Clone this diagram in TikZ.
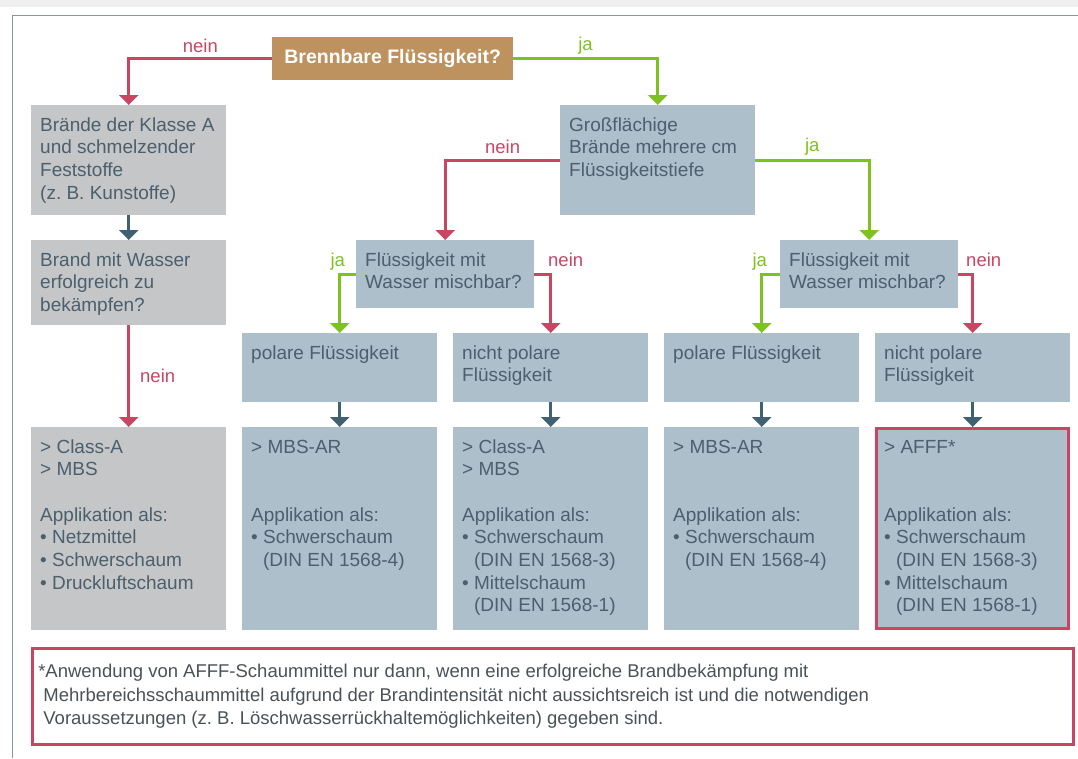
\documentclass[tikz,border=0pt]{standalone}
\usepackage{fontspec}
\setmainfont{Liberation Sans}
\usetikzlibrary{arrows.meta}

\definecolor{tanbox}{HTML}{BD925E}
\definecolor{boxgrey}{HTML}{C5C6C8}
\definecolor{boxblue}{HTML}{ADBFCB}
\definecolor{ink}{HTML}{4B5F6D}
\definecolor{noteink}{HTML}{4A5258}
\definecolor{nored}{HTML}{C94663}
\definecolor{yesgreen}{HTML}{7DC21E}
\definecolor{arrblue}{HTML}{3F6173}
\definecolor{framegrey}{HTML}{8A969D}
\definecolor{topgrey}{HTML}{EFEFEF}

\newcommand{\cell}[3][177pt]{\parbox[t][#2][t]{#1}{\raggedright\strut #3}}
\newcommand{\ind}{\phantom{• }}

\begin{document}
\frenchspacing
\begin{tikzpicture}[x=1pt, y=-1pt,
    box/.style={anchor=north west, inner xsep=9pt, inner ysep=10pt, text=ink,
      font=\fontsize{19}{22.7}\selectfont},
    grey/.style={box, fill=boxgrey},
    blue/.style={box, fill=boxblue},
    arr/.style={line width=3pt, -{Triangle[width=19pt,length=10pt]}},
    no/.style={arr, draw=nored},
    yes/.style={arr, draw=yesgreen},
    down/.style={arr, draw=arrblue},
    lbl/.style={inner sep=0pt, anchor=base, font=\fontsize{18.5}{22.7}\selectfont}]
  \useasboundingbox (0,0) rectangle (1078,758);
  \fill[white] (0,0) rectangle (1078,758);
  \fill[topgrey] (0,0) rectangle (1078,7);
  \draw[framegrey, line width=1pt] (12,758) -- (12,15) -- (1078,15);

  \node[fill=tanbox, text=white, anchor=north west, inner sep=0pt,
    minimum width=241pt, minimum height=43pt,
    font=\fontsize{19.5}{22}\selectfont\bfseries] (fluid) at (272,37) {Brennbare Flüssigkeit?};

  \node[grey] (solid) at (31,105) {\cell{90pt}{Brände der Klasse A\\und schmelzender\\Feststoffe\\(z. B. Kunstoffe)}};
  \node[blue] (area) at (560,105) {\cell{90pt}{Großflächige\\Brände mehrere cm\\Flüssigkeitstiefe}};
  \node[grey] (water) at (31,240) {\cell{65pt}{Brand mit Wasser\\erfolgreich zu\\bekämpfen?}};
  \node[blue] (mixL) at (356,240) {\cell[160pt]{48pt}{Flüssigkeit mit\\Wasser mischbar?}};
  \node[blue] (mixR) at (780,240) {\cell[160pt]{48pt}{Flüssigkeit mit\\Wasser mischbar?}};

  \node[blue] (polL) at (242,333) {\cell{49pt}{polare Flüssigkeit}};
  \node[blue] (npolL) at (453,333) {\cell{49pt}{nicht polare\\Flüssigkeit}};
  \node[blue] (polR) at (664,333) {\cell{49pt}{polare Flüssigkeit}};
  \node[blue] (npolR) at (875,333) {\cell{49pt}{nicht polare\\Flüssigkeit}};

  \node[grey] (resA) at (31,427) {\cell{183pt}{> Class-A\\> MBS\\[22.7pt]Applikation als:\\• Netzmittel\\• Schwerschaum\\• Druckluftschaum}};
  \node[blue] (resB) at (242,427) {\cell{183pt}{> MBS-AR\\[45.4pt]Applikation als:\\• Schwerschaum\\\ind(DIN EN 1568-4)}};
  \node[blue] (resC) at (453,427) {\cell{183pt}{> Class-A\\> MBS\\[22.7pt]Applikation als:\\• Schwerschaum\\\ind(DIN EN 1568-3)\\• Mittelschaum\\\ind(DIN EN 1568-1)}};
  \node[blue] (resD) at (664,427) {\cell{183pt}{> MBS-AR\\[45.4pt]Applikation als:\\• Schwerschaum\\\ind(DIN EN 1568-4)}};
  \node[blue] (resE) at (875,427) {\cell{183pt}{> AFFF*\\[45.4pt]Applikation als:\\• Schwerschaum\\\ind(DIN EN 1568-3)\\• Mittelschaum\\\ind(DIN EN 1568-1)}};
  \draw[nored, line width=3pt] ([shift={(1.5pt,-1.5pt)}]resE.north west) rectangle ([shift={(-1.5pt,1.5pt)}]resE.south east);

  \node[anchor=north west, draw=nored, line width=2.5pt, fill=white, text=noteink,
    inner xsep=6pt, inner ysep=13pt, font=\fontsize{18.5}{23.5}\selectfont] (note) at (31,647)
    {\parbox[t][70pt][t]{1029pt}{\raggedright\strut *Anwendung von AFFF-Schaummittel nur dann, wenn eine erfolgreiche Brandbekämpfung mit\\
    \hspace*{0.278em}Mehrbereichsschaummittel aufgrund der Brandintensität nicht aussichtsreich ist und die notwendigen\\
    \hspace*{0.278em}Voraussetzungen (z. B. Löschwasserrückhaltemöglichkeiten) gegeben sind.}};

  \draw[no] (fluid.west) -| node[lbl, text=nored, pos=0.25, yshift=6pt] {nein} (solid.north);
  \draw[yes] (fluid.east) -| node[lbl, text=yesgreen, pos=0.25, yshift=8pt] {ja} (area.north);
  \draw[no] (area.west) -| node[lbl, text=nored, pos=0.25, yshift=7pt] {nein} (mixL.north);
  \draw[yes] (area.east) -| node[lbl, text=yesgreen, pos=0.25, yshift=9pt] {ja} (mixR.north);

  \draw[down] (solid.south) -- (water.north);
  \draw[no] (water.south) -- node[lbl, text=nored, anchor=base west, pos=0.56, xshift=10pt] {nein} (resA.north);

  \draw[yes] (mixL.west) -| node[lbl, text=yesgreen, pos=0.5, yshift=8pt, xshift=-2pt] {ja} (polL.north);
  \draw[no] (mixL.east) -| node[lbl, text=nored, anchor=base west, pos=0.5, xshift=-4pt, yshift=8pt] {nein} (npolL.north);
  \draw[yes] (mixR.west) -| node[lbl, text=yesgreen, pos=0.5, yshift=8pt, xshift=-2pt] {ja} (polR.north);
  \draw[no] (mixR.east) -| node[lbl, text=nored, anchor=base west, pos=0.5, xshift=-8pt, yshift=8pt] {nein} (npolR.north);

  \draw[down] (polL.south) -- (resB.north);
  \draw[down] (npolL.south) -- (resC.north);
  \draw[down] (polR.south) -- (resD.north);
  \draw[down] (npolR.south) -- (resE.north);
\end{tikzpicture}
\end{document}
